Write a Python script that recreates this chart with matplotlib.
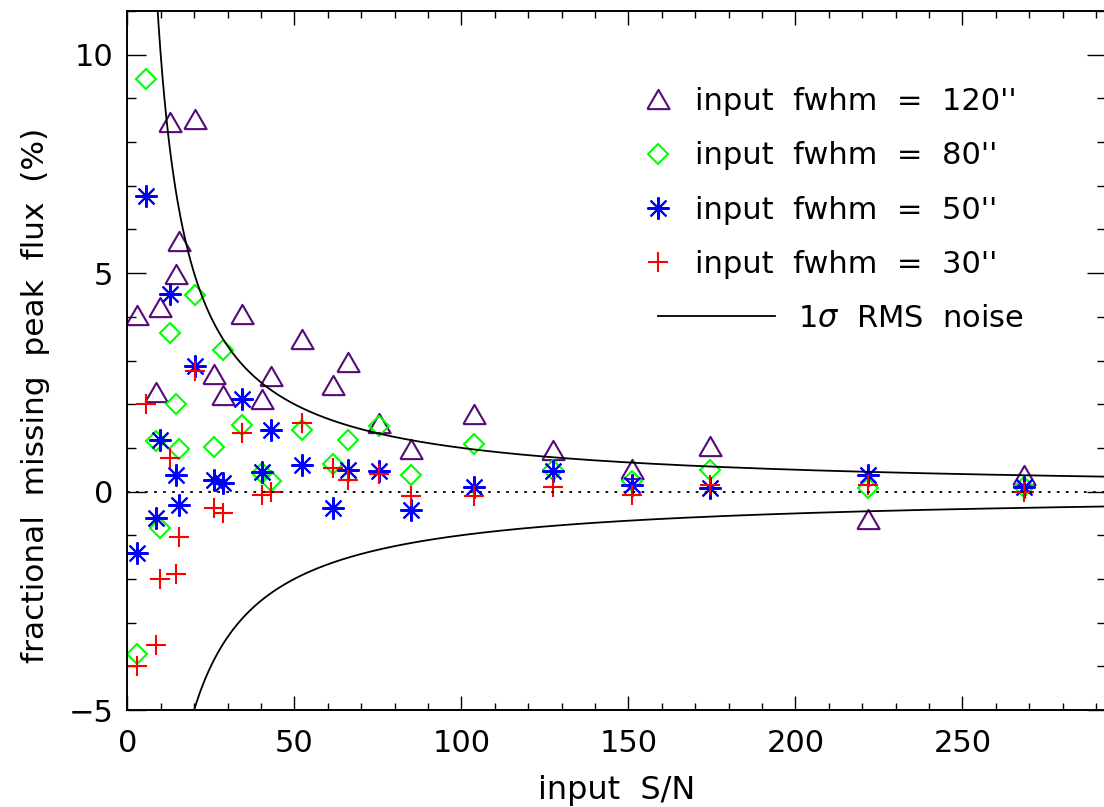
import numpy as np
import matplotlib
matplotlib.use("Agg")
import matplotlib.pyplot as plt
from matplotlib.lines import Line2D

# ---------------- data ----------------
tri_x = [2.8, 8.5, 9.8, 12.8, 14.6, 15.6, 20.4, 26.0, 28.7, 34.4, 40.2, 42.9,
         52.4, 61.7, 66.2, 75.5, 84.9, 103.8, 127.4, 151.0, 174.5, 221.6, 268.6]
tri_y = [4.05, 2.28, 4.23, 8.47, 4.99, 5.73, 8.53, 2.68, 2.22, 4.07, 2.12, 2.65,
         3.50, 2.45, 2.96, 1.56, 0.98, 1.78, 0.94, 0.52, 1.05, -0.63, 0.39]

sn_x = [2.8, 5.6, 8.5, 9.8, 12.8, 14.6, 15.6, 20.4, 26.0, 28.7, 34.4, 40.2,
        42.9, 52.4, 61.7, 66.2, 75.5, 84.9, 103.8, 127.4, 151.0, 174.5, 221.6, 268.6]
dia_y = [-3.71, 9.45, 1.15, -0.83, 3.63, 2.01, 0.98, 4.49, 1.01, 3.25, 1.53, 0.43,
         0.24, 1.40, 0.62, 1.19, 1.49, 0.39, 1.08, 0.49, 0.24, 0.49, 0.08, 0.10]
star_y = [-1.40, 6.76, -0.60, 1.19, 4.53, 0.39, -0.31, 2.88, 0.27, 0.20, 2.12, 0.45,
          1.42, 0.60, -0.37, 0.50, 0.46, -0.43, 0.11, 0.46, 0.14, 0.08, 0.39, 0.11]
plus_y = [-4.00, 2.01, -3.52, -2.00, 0.77, -1.88, -1.04, 2.75, -0.37, -0.50, 1.33, -0.09,
          0.00, 1.56, 0.54, 0.27, 0.41, -0.11, -0.10, 0.10, -0.07, 0.15, 0.14, -0.02]

labels = ["input  fwhm  =  120''", "input  fwhm  =  80''",
          "input  fwhm  =  50''", "input  fwhm  =  30''"]
noise_label = r"1$\sigma$  RMS  noise"
NOISE_PCT = 100.0          # 1 sigma noise in percent = 100 / (S/N)

xlim = (0, 293)
ylim = (-5, 11)

# ---------------- style ----------------
plt.rcParams["font.family"] = ["DejaVu Sans"]
FS = 22
c_tri = "#560a78"
c_dia = "#00ff00"
c_star = "#0000ff"
c_plus = "#ff0000"

tri_marker = [(-1, -0.866), (1, -0.866), (0, 0.866), (-1, -0.866)]
star_marker = (8, 2, 0)
MS_TRI, MS_DIA, MS_STAR, MS_PLUS = 16, 10.3, 16, 14.5

W, H = 1104, 807
fig = plt.figure(figsize=(W / 100, H / 100), dpi=100)
ax_left, ax_right_px, ax_top, ax_bot = 127.3, 1106.0, 11.0, 710.0
ax = fig.add_axes([ax_left / W, 1 - ax_bot / H,
                   (ax_right_px - ax_left) / W, (ax_bot - ax_top) / H])

mew = 1.5
ax.plot(tri_x, tri_y, ls="none", marker=tri_marker, ms=MS_TRI, mfc="none",
        mec=c_tri, mew=mew)
ax.plot(sn_x, dia_y, ls="none", marker="D", ms=MS_DIA, mfc="none",
        mec=c_dia, mew=mew)
ax.plot(sn_x, star_y, ls="none", marker=star_marker, ms=MS_STAR, mfc="none",
        mec=c_star, mew=mew)
ax.plot(sn_x, plus_y, ls="none", marker="+", ms=MS_PLUS, mfc="none",
        mec=c_plus, mew=mew)

xs = np.linspace(1, xlim[1], 3000)
ax.plot(xs, NOISE_PCT / xs, color="black", lw=1.3)
ax.plot(xs, -NOISE_PCT / xs, color="black", lw=1.3)
ax.axhline(0, color="black", lw=1.3, ls=(0, (1.5, 3.5)))

ax.set_xlim(*xlim)
ax.set_ylim(*ylim)
ax.set_xticks([0, 50, 100, 150, 200, 250])
ax.set_xticks(np.arange(0, 300, 10), minor=True)
ax.set_yticks([-5, 0, 5, 10])
ax.set_yticks(np.arange(-5, 12, 1), minor=True)
ax.set_yticklabels(["\u22125", "0", "5", "10"])
ax.tick_params(axis="both", which="both", direction="in", top=True, right=True,
               labelsize=FS, width=1.0, color="black")
ax.tick_params(axis="x", which="major", length=10, pad=14)
ax.tick_params(axis="x", which="minor", length=4.7)
ax.tick_params(axis="y", which="major", length=13.7, pad=10)
ax.tick_params(axis="y", which="minor", length=6.5)
for s in ax.spines.values():
    s.set_linewidth(1.4)

fig.text(617 / W, 1 - 799 / H, "input  S/N", fontsize=FS + 1, ha="center",
         va="baseline")
fig.text(36 / W, 1 - 395 / H, "fractional  missing  peak  flux  (%)",
         fontsize=FS + 0.5, rotation=90, ha="center", va="center")

# ---------------- legend ----------------
fs_px = FS * 100 / 72
axw = ax_right_px - ax_left
axh = ax_bot - ax_top
handles = [
    Line2D([], [], ls="none", marker=tri_marker, ms=MS_TRI, mfc="none", mec=c_tri, mew=mew),
    Line2D([], [], ls="none", marker="D", ms=MS_DIA, mfc="none", mec=c_dia, mew=mew),
    Line2D([], [], ls="none", marker=star_marker, ms=MS_STAR, mfc="none", mec=c_star, mew=mew),
    Line2D([], [], ls="none", marker="+", ms=MS_PLUS, mfc="none", mec=c_plus, mew=mew),
]
hl = 1.0
leg1 = ax.legend(handles, labels, loc="upper left", frameon=False, fontsize=FS,
                 handlelength=hl, handletextpad=0.71, labelspacing=0.83,
                 borderpad=0, borderaxespad=0, numpoints=1,
                 bbox_to_anchor=((658 - hl * fs_px / 2 - ax_left) / axw,
                                 1 - (87 - ax_top) / axh))
ax.add_artist(leg1)
hl2 = 117 / fs_px
leg2 = ax.legend([Line2D([], [], color="black", lw=1.3)], [noise_label],
                 loc="upper left", frameon=False, fontsize=FS,
                 handlelength=hl2, handletextpad=0.75, borderpad=0, borderaxespad=0,
                 bbox_to_anchor=((658 - ax_left) / axw, 1 - (304 - ax_top) / axh))

fig.savefig("out.png", dpi=100)
